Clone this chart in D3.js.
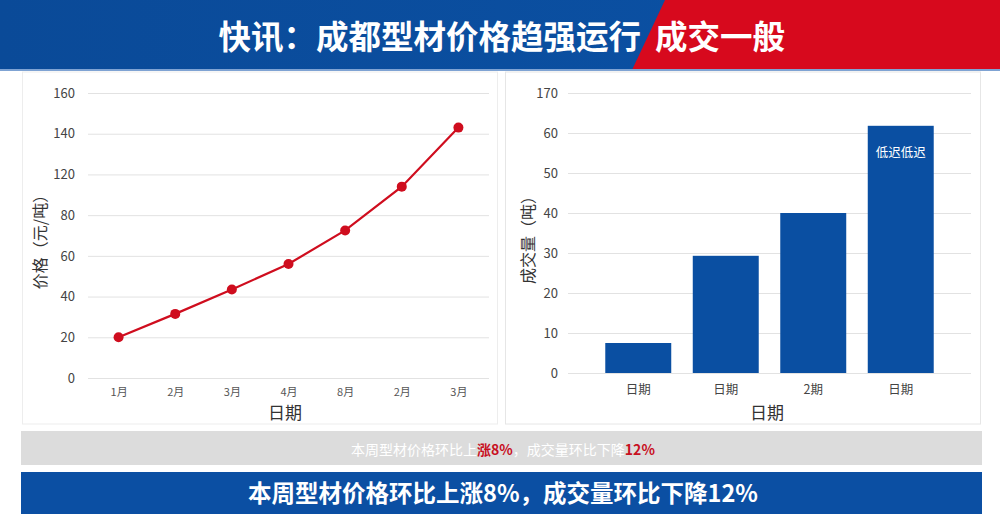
<!DOCTYPE html>
<html><head><meta charset="utf-8">
<script src="https://cdn.jsdelivr.net/npm/d3@7"></script>
<style>
html,body{margin:0;padding:0;background:#fff;}
svg{display:block;}
text{font-family:"Noto Sans CJK SC","Liberation Sans",sans-serif;}
</style></head>
<body>
<svg id="c" width="1000" height="521"></svg>
<script>
// ---- data ----
const titleMain = "快讯：成都型材价格趋强运行";
const titleRed = "成交一般";
const priceMonths = ["1月","2月","3月","4月","8月","2月","3月"];
const priceValues = [20, 31.5, 43.5, 56, 72.5, 94, 123];
const priceTickValues = [0,20,40,60,80,100,120,140];
const priceTickLabels = ["0","20","40","60","80","120","140","160"];
const volCategories = ["日期","日期","2期","日期"];
const volValues = [7.5, 29.3, 40, 61.8];
const volTickValues = [0,10,20,30,40,50,60,70];
const volTickLabels = ["0","10","20","30","40","50","60","170"];
const volBarLabel = "低迟低迟";
const priceYTitle = "价格（元/吨）";
const volYTitle = "成交量（吨）";
const xTitle = "日期";
const summaryParts = [["本周型材价格环比上",false],["涨8%",true],["，成交量环比下降",false],["12%",true]];
const bannerText = "本周型材价格环比上涨8%，成交量环比下降12%";

const svg = d3.select("#c");
const defs = svg.append("defs");
const gb = defs.append("linearGradient").attr("id","gb").attr("x1",0).attr("x2",1).attr("y1",0).attr("y2",0);
gb.append("stop").attr("offset","0").attr("stop-color","#0a4a98");
gb.append("stop").attr("offset","1").attr("stop-color","#0b52a6");

// header
svg.append("rect").attr("x",0).attr("y",0).attr("width",1000).attr("height",70).attr("fill","url(#gb)");
svg.append("path").attr("d","M665,0 L1000,0 L1000,70 L632,70 Z").attr("fill","#d7091d");
svg.append("rect").attr("x",0).attr("y",69).attr("width",1000).attr("height",2).attr("fill","#7fa3d3");
svg.append("text").attr("x",641).attr("y",49).attr("text-anchor","end")
  .attr("font-size",32.5).attr("font-weight",700).attr("fill","#fff").text(titleMain);
svg.append("text").attr("x",655).attr("y",49).attr("text-anchor","start")
  .attr("font-size",32.5).attr("font-weight",700).attr("fill","#fff").text(titleRed);

// panels
svg.append("rect").attr("x",22.5).attr("y",72).attr("width",475).attr("height",352).attr("fill","#fff").attr("stroke","#ededed");
svg.append("rect").attr("x",505.5).attr("y",72).attr("width",475).attr("height",352).attr("fill","#fff").attr("stroke","#e6e6e6");

// ---- left line chart ----
const L = {x0:88, x1:489, y0:378, y1:93};
const xL = d3.scalePoint().domain(d3.range(priceMonths.length)).range([L.x0,L.x1]).padding(0.54);
const yL = d3.scaleLinear().domain([0,140]).range([L.y0,L.y1]);
const gL = svg.append("g");
gL.append("g").attr("transform",`translate(${L.x0},0)`)
  .call(d3.axisLeft(yL).tickValues(priceTickValues).tickSize(-(L.x1-L.x0)).tickPadding(13)
    .tickFormat((d,i)=>priceTickLabels[i]))
  .call(g=>{g.select(".domain").remove();
    g.selectAll("line").attr("stroke","#e2e2e2");
    g.selectAll("text").attr("font-size",13).attr("fill","#444").attr("font-family","Liberation Sans, sans-serif");});
gL.append("g").attr("transform",`translate(0,${L.y0})`)
  .call(d3.axisBottom(xL).tickSize(0).tickPadding(10).tickFormat(i=>priceMonths[i]))
  .call(g=>{g.select(".domain").remove();
    g.selectAll("text").attr("font-size",11).attr("fill","#555");});
const line = d3.line().x((d,i)=>xL(i)).y(d=>yL(d)).curve(d3.curveLinear);
gL.append("path").datum(priceValues).attr("d",line).attr("fill","none").attr("stroke","#cf0d1e").attr("stroke-width",2.2);
gL.selectAll("circle").data(priceValues).join("circle").attr("cx",(d,i)=>xL(i)).attr("cy",d=>yL(d)).attr("r",5).attr("fill","#cf0d1e");
gL.append("text").attr("x",285).attr("y",419).attr("text-anchor","middle").attr("font-size",17).attr("fill","#333").text(xTitle);
gL.append("text").attr("transform","translate(46,238) rotate(-90)").attr("text-anchor","middle").attr("font-size",16).attr("fill","#333").text(priceYTitle);

// ---- right bar chart ----
const R = {x0:568, x1:971, y0:373, y1:93};
const xR = d3.scaleBand().domain(d3.range(volCategories.length)).range([R.x0,R.x1]).paddingInner(0.246).paddingOuter(0.426);
const yR = d3.scaleLinear().domain([0,70]).range([R.y0,R.y1]);
const gR = svg.append("g");
gR.append("g").attr("transform",`translate(${R.x0},0)`)
  .call(d3.axisLeft(yR).tickValues(volTickValues).tickSize(-(R.x1-R.x0)).tickPadding(10)
    .tickFormat((d,i)=>volTickLabels[i]))
  .call(g=>{g.select(".domain").remove();
    g.selectAll("line").attr("stroke","#e2e2e2");
    g.selectAll("text").attr("font-size",13).attr("fill","#444").attr("font-family","Liberation Sans, sans-serif");});
gR.selectAll("rect.bar").data(volValues).join("rect").attr("class","bar")
  .attr("x",(d,i)=>xR(i)).attr("width",xR.bandwidth()).attr("y",d=>yR(d)).attr("height",d=>R.y0-yR(d)).attr("fill","#0a4fa2");
gR.append("g").attr("transform",`translate(0,${R.y0})`)
  .call(d3.axisBottom(xR).tickSize(0).tickPadding(12).tickFormat(i=>volCategories[i]))
  .call(g=>{g.select(".domain").remove();
    g.selectAll("text").attr("font-size",12.5).attr("fill","#444");});
const last = volValues.length-1;
gR.append("text").attr("x",xR(last)+xR.bandwidth()/2).attr("y",yR(volValues[last])+31)
  .attr("text-anchor","middle").attr("font-size",12.5).attr("fill","#fff").text(volBarLabel);
gR.append("text").attr("x",767).attr("y",419).attr("text-anchor","middle").attr("font-size",17).attr("fill","#333").text(xTitle);
gR.append("text").attr("transform","translate(534,236) rotate(-90)").attr("text-anchor","middle").attr("font-size",16).attr("fill","#333").text(volYTitle);

// ---- summary gray bar ----
svg.append("rect").attr("x",21).attr("y",431).attr("width",961).attr("height",34).attr("fill","#dcdcdc");
const st = svg.append("text").attr("x",503).attr("y",455).attr("text-anchor","middle").attr("font-size",14);
st.selectAll("tspan").data(summaryParts).join("tspan")
  .attr("fill",d=>d[1]?"#c8101f":"#fff").attr("font-weight",d=>d[1]?700:400).text(d=>d[0]);

// ---- bottom blue banner ----
svg.append("rect").attr("x",21).attr("y",472).attr("width",961).attr("height",42).attr("fill","#0b4fa3");
svg.append("text").attr("x",503).attr("y",502).attr("text-anchor","middle").attr("font-size",23.5).attr("font-weight",700).attr("fill","#fff").text(bannerText);
</script>
</body></html>
